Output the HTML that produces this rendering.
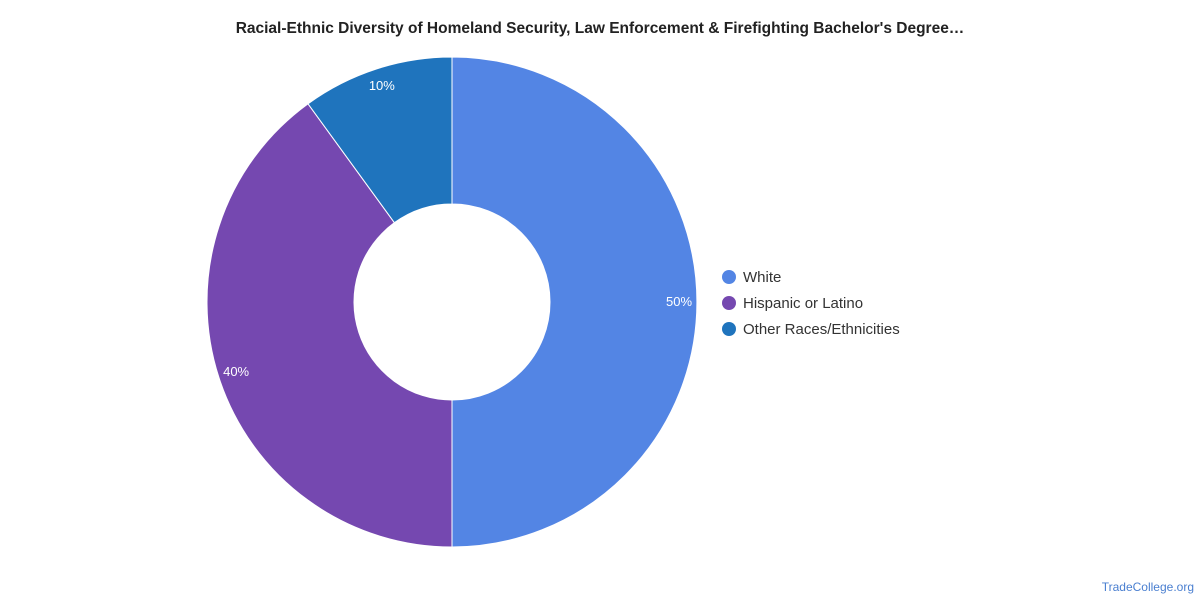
<!DOCTYPE html>
<html><head><meta charset="utf-8"><style>
body{margin:0;background:#fff;font-family:"Liberation Sans",Arial,sans-serif;}
svg{display:block}
</style></head><body>
<svg width="1200" height="600" id="chart">
<text x="600" y="33" text-anchor="middle" font-size="15.5" font-weight="bold" fill="#222">Racial-Ethnic Diversity of Homeland Security, Law Enforcement &amp; Firefighting Bachelor's Degree…</text>
<g id="slices"></g>
<g id="legend"></g>
<text x="1194" y="591" text-anchor="end" font-size="12" fill="#4a7fd0">TradeCollege.org</text>
</svg>
<script>
const categories=["White","Hispanic or Latino","Other Races/Ethnicities"];
const values=[50,40,10];
const labels=["50%","40%","10%"];
const colors=["#5385e4","#7548b0","#1f74bd"];
const ns="http://www.w3.org/2000/svg";
const cx=452,cy=302,R=245,r=98;
const total=values.reduce((a,b)=>a+b,0);
const g=document.getElementById("slices");
let a0=0;
values.forEach((v,i)=>{
  const a1=a0+v/total*2*Math.PI;
  const p=(a,rad)=>[cx+rad*Math.sin(a),cy-rad*Math.cos(a)];
  const [x0,y0]=p(a0,R),[x1,y1]=p(a1,R),[x2,y2]=p(a1,r),[x3,y3]=p(a0,r);
  const lg=(a1-a0)>Math.PI?1:0;
  const path=document.createElementNS(ns,"path");
  path.setAttribute("d",`M${x0},${y0}A${R},${R} 0 ${lg} 1 ${x1},${y1}L${x2},${y2}A${r},${r} 0 ${lg} 0 ${x3},${y3}Z`);
  path.setAttribute("fill",colors[i]);path.setAttribute("stroke","#fff");path.setAttribute("stroke-width","1");
  
  
  g.appendChild(path);
  const am=(a0+a1)/2;const [lx,ly]=p(am,R-18);
  const t=document.createElementNS(ns,"text");
  t.setAttribute("x",lx);t.setAttribute("y",ly+4);t.setAttribute("text-anchor","middle");
  t.setAttribute("font-size","13");t.setAttribute("fill","#fff");t.textContent=labels[i];
  
  
  g.appendChild(t);
  a0=a1;
});
const lgd=document.getElementById("legend");
categories.forEach((c,i)=>{
  const y=277+i*26;
  const e=document.createElementNS(ns,"g");
  
  
  const ci=document.createElementNS(ns,"circle");
  ci.setAttribute("cx",729);ci.setAttribute("cy",y);ci.setAttribute("r",7);ci.setAttribute("fill",colors[i]);
  
  
  const t=document.createElementNS(ns,"text");
  t.setAttribute("x",743);t.setAttribute("y",y+5);t.setAttribute("font-size","15");t.setAttribute("fill","#333");t.textContent=c;
  
  
  e.appendChild(ci);e.appendChild(t);lgd.appendChild(e);
});
</script>
</body></html>
